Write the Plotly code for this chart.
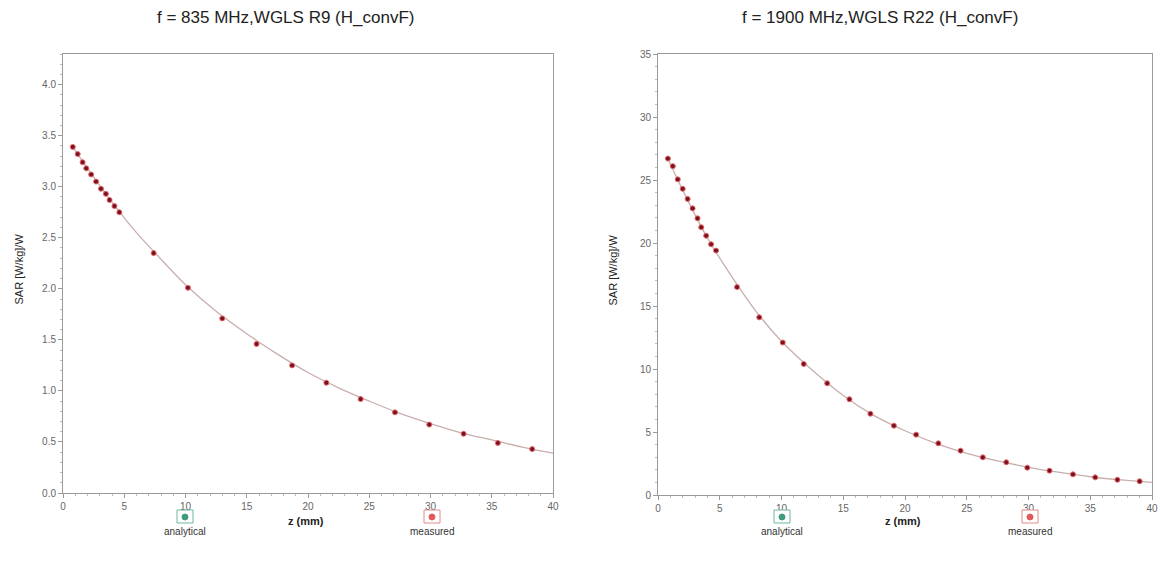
import plotly.graph_objects as go

# 835 MHz, WGLS R9 - measured points
z_meas_835 = [0.8, 1.2, 1.6, 1.9, 2.3, 2.7, 3.1, 3.5, 3.8, 4.2, 4.6,
              7.4, 10.2, 13.0, 15.8, 18.7, 21.5, 24.3, 27.1, 29.9, 32.7, 35.5, 38.3]
sar_meas_835 = [3.39, 3.32, 3.24, 3.18, 3.12, 3.05, 2.98, 2.93, 2.87, 2.81, 2.75,
                2.35, 2.01, 1.71, 1.46, 1.25, 1.08, 0.92, 0.79, 0.67, 0.58, 0.49, 0.43]
# 835 MHz - analytical curve
z_ana_835 = [0.8, 2, 4, 6, 8, 10, 12.5, 15, 17.5, 20, 22.5, 25, 27.5, 30, 32.5, 35, 37.5, 40]
sar_ana_835 = [3.39, 3.18, 2.85, 2.55, 2.29, 2.04, 1.78, 1.56, 1.36, 1.18,
               1.03, 0.90, 0.78, 0.68, 0.59, 0.52, 0.45, 0.39]

# 1900 MHz, WGLS R22 - measured points
z_meas_1900 = [0.8, 1.2, 1.6, 2.0, 2.4, 2.8, 3.2, 3.5, 3.9, 4.3, 4.7,
               6.4, 8.2, 10.1, 11.8, 13.7, 15.5, 17.2, 19.1, 20.9, 22.7,
               24.5, 26.3, 28.2, 29.9, 31.7, 33.6, 35.4, 37.2, 39.0]
sar_meas_1900 = [26.7, 26.1, 25.05, 24.3, 23.5, 22.75, 21.96, 21.25, 20.58, 19.9, 19.4,
                 16.5, 14.1, 12.1, 10.4, 8.87, 7.6, 6.45, 5.5, 4.79, 4.1,
                 3.52, 2.99, 2.6, 2.17, 1.93, 1.64, 1.40, 1.21, 1.09]
# 1900 MHz - analytical curve
z_ana_1900 = [0.8, 2, 4, 6, 8, 10, 12.5, 15, 17.5, 20, 22.5, 25, 27.5, 30, 32.5, 35, 37.5, 40]
sar_ana_1900 = [26.7, 24.2, 20.4, 17.3, 14.5, 12.2, 9.9, 7.9, 6.3, 5.1,
                4.1, 3.3, 2.7, 2.2, 1.8, 1.45, 1.2, 1.0]

titles = ["f = 835 MHz,WGLS R9 (H_convF)", "f = 1900 MHz,WGLS R22 (H_convF)"]

W, H = 1160, 575
LINE_COLOR = "#c9aeae"
DOT_COLOR = "#7a1020"
DOT_EDGE = "#e46a6a"
AXIS_COLOR = "#9a9a9a"
TICK_FONT = dict(family="Liberation Sans, Arial", size=10, color="#666666")

fig = go.Figure()

panels = [
    ("x", "y", z_ana_835, sar_ana_835, z_meas_835, sar_meas_835),
    ("x2", "y2", z_ana_1900, sar_ana_1900, z_meas_1900, sar_meas_1900),
]
for xa, ya, za, sa, zm, sm in panels:
    fig.add_trace(go.Scatter(x=za, y=sa, mode="lines", xaxis=xa, yaxis=ya,
                             line=dict(color=LINE_COLOR, width=1.3, shape="spline"),
                             showlegend=False, hoverinfo="skip"))
    fig.add_trace(go.Scatter(x=zm, y=sm, mode="markers", xaxis=xa, yaxis=ya,
                             marker=dict(color=DOT_COLOR, size=5,
                                         line=dict(color=DOT_EDGE, width=1)),
                             showlegend=False))

# plot-area boxes in pixels (left, right, top, bottom)
left_box = (63, 553, 54, 493)
right_box = (658, 1152, 54, 495)


def dom_x(b):
    return [b[0] / W, b[1] / W]


def dom_y(b):
    return [(H - b[3]) / H, (H - b[2]) / H]


def axis_style(minor_step):
    return dict(showgrid=False, zeroline=False, showline=True, linecolor=AXIS_COLOR,
                linewidth=1, mirror=True, ticks="outside", ticklen=4,
                tickcolor=AXIS_COLOR, tickfont=TICK_FONT, automargin=False,
                minor=dict(ticks="outside", ticklen=2, tickcolor="#bbbbbb",
                           dtick=minor_step))


fig.update_layout(
    width=W, height=H,
    margin=dict(l=0, r=0, t=0, b=0, pad=0),
    plot_bgcolor="white", paper_bgcolor="white",
    showlegend=False,
    xaxis=dict(domain=dom_x(left_box), anchor="y", range=[0, 40], dtick=5,
               **axis_style(1)),
    yaxis=dict(domain=dom_y(left_box), anchor="x", range=[0, 4.3], dtick=0.5,
               tickformat=".1f", **axis_style(0.1)),
    xaxis2=dict(domain=dom_x(right_box), anchor="y2", range=[0, 40], dtick=5,
                **axis_style(1)),
    yaxis2=dict(domain=dom_y(right_box), anchor="x2", range=[0, 35], dtick=5,
                **axis_style(1)),
)

annotations = []
shapes = []


def px_x(x):
    return x / W


def px_y(y):
    return 1 - y / H


title_font = dict(family="Liberation Sans, Arial", size=17, color="#222222")
label_font = dict(family="Liberation Sans, Arial", size=11, color="#222222")
legend_font = dict(family="Liberation Sans, Arial", size=10, color="#333333")


def label(x, y, text, font, angle=0):
    return dict(x=px_x(x), y=px_y(y), xref="paper", yref="paper", text=text,
                showarrow=False, font=font, textangle=angle,
                xanchor="center", yanchor="middle")


for title, box, tx, ytx, leg_a, leg_m in [
    (titles[0], left_box, 285, 18, 185, 432),
    (titles[1], right_box, 880, 612, 782, 1030),
]:
    cx = (box[0] + box[1]) / 2
    annotations.append(label(tx, 17, title, title_font))
    annotations.append(label(cx - 2, 521, "<b>z (mm)</b>", label_font))
    annotations.append(label(ytx, (box[2] + box[3]) / 2 - 4, "SAR [W/kg]/W", label_font, -90))
    for lx, name, col, edge in [(leg_a, "analytical", "#3f9c80", "#6fb89a"),
                                (leg_m, "measured", "#e05a5a", "#e08a8a")]:
        shapes.append(dict(type="rect", xref="paper", yref="paper",
                           x0=px_x(lx - 8), x1=px_x(lx + 8),
                           y0=px_y(523), y1=px_y(510),
                           line=dict(color=edge, width=1), fillcolor="white"))
        shapes.append(dict(type="circle", xref="paper", yref="paper",
                           x0=px_x(lx - 3), x1=px_x(lx + 3),
                           y0=px_y(520), y1=px_y(514),
                           line=dict(color=col, width=1), fillcolor=col))
        annotations.append(label(lx, 531, name, legend_font))

fig.update_layout(annotations=annotations, shapes=shapes)

fig.write_html("out.html", config={"displayModeBar": False},
               post_script="document.body.style.margin='0';")
